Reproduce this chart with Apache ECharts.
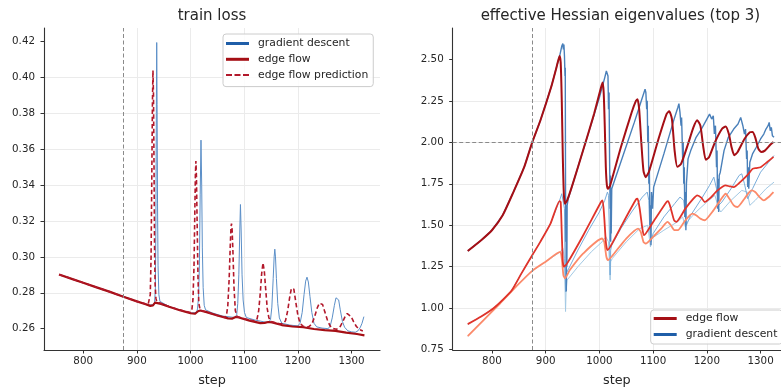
<!DOCTYPE html>
<html><head><meta charset="utf-8">
<script src="https://cdn.jsdelivr.net/npm/echarts@6/dist/echarts.min.js"></script>
<style>html,body{margin:0;padding:0;background:#fff}#c{width:781px;height:392px}</style>
</head><body><div id="c"></div>
<script>
// ---------- tick labels ----------
const xTicks = [800, 900, 1000, 1100, 1200, 1300];
const lossTicks = [0.26, 0.28, 0.30, 0.32, 0.34, 0.36, 0.38, 0.40, 0.42];
const eigTicks = [0.75, 1.00, 1.25, 1.50, 1.75, 2.00, 2.25, 2.50];
const stepMarker = 875;
const eigThreshold = 2.0;

// ---------- left panel: train loss ----------
const lossGD = [
[755,0.2902],[800,0.2856],[850,0.2805],[875,0.2778],[900,0.2752],[920,0.2732],
[931,0.2733],[933,0.2745],[934.5,0.2820],[935.5,0.3200],[936.3,0.3800],[937,0.4195],[937.7,0.3850],[938.5,0.3300],[939.5,0.2950],[941,0.2790],[943,0.2752],
[960,0.2723],[980,0.2704],[1000,0.2687],
[1011,0.2690],[1013,0.2710],[1015,0.2780],[1016.5,0.2950],[1018,0.3350],[1019.5,0.3651],[1020.8,0.3400],[1022,0.3050],[1023.5,0.2830],[1025.5,0.2730],[1028,0.2705],
[1040,0.2688],[1060,0.2670],
[1083,0.2662],[1086,0.2678],[1088,0.2740],[1090,0.2900],[1091.8,0.3150],[1093,0.3292],[1094.3,0.3150],[1096,0.2900],[1098,0.2760],[1100.5,0.2690],[1104,0.2662],
[1120,0.2648],[1140,0.2636],
[1146,0.2638],[1149,0.2650],[1151.5,0.2720],[1154,0.2880],[1155.8,0.3000],[1157,0.3043],[1158.3,0.3000],[1160,0.2880],[1162.5,0.2740],[1165.5,0.2660],[1170,0.2630],
[1185,0.2620],
[1200,0.2615],[1204,0.2630],[1208,0.2690],[1211.5,0.2790],[1214.5,0.2865],[1217,0.2887],[1219.5,0.2860],[1222.5,0.2780],[1226,0.2690],[1230,0.2630],[1235,0.2610],
[1245,0.2603],
[1256,0.2600],[1260,0.2612],[1264,0.2660],[1268,0.2730],[1271,0.2772],[1273.5,0.2780],[1276,0.2760],[1279,0.2705],[1283,0.2640],[1287,0.2608],[1293,0.2588],
[1300,0.2582],[1307,0.2580],[1312,0.2588],[1316,0.2605],[1319.5,0.2630],[1323,0.2667]
];
const lossEF = [
[755,0.2902],[780,0.2876],[800,0.2856],[825,0.2830],[850,0.2805],[875,0.2778],[900,0.2752],[915,0.2737],[925,0.2727],[930,0.2730],[934,0.2745],[937,0.2748],[945,0.2738],[960,0.2722],[980,0.2703],[1000,0.2686],[1008,0.2683],[1014,0.2697],[1018,0.2701],[1030,0.2692],[1050,0.2673],[1070,0.2657],[1078,0.2656],[1084,0.2665],[1090,0.2662],[1110,0.2645],[1130,0.2631],[1138,0.2632],[1145,0.2637],[1152,0.2635],[1170,0.2620],[1190,0.2612],[1210,0.2608],[1230,0.2598],[1250,0.2592],[1270,0.2588],[1290,0.2578],[1310,0.2570],[1324,0.2563]
];
const lossPred = [
[755,0.2902],[800,0.2856],[850,0.2805],[875,0.2778],[900,0.2752],
[921,0.2735],[923,0.2745],[925,0.2790],[926.5,0.3000],[928,0.3500],[929,0.3850],[930,0.4040],[931,0.3900],[932,0.3500],[933,0.3050],[934,0.2850],[935.5,0.2770],[937,0.2750],
[960,0.2723],[980,0.2704],
[1000,0.2690],[1002.5,0.2705],[1004.5,0.2760],[1006.5,0.2950],[1008,0.3250],[1009,0.3450],[1010,0.3535],[1011,0.3450],[1012.5,0.3150],[1014,0.2870],[1015.5,0.2740],[1018,0.2703],
[1030,0.2692],[1050,0.2674],
[1064,0.2662],[1067,0.2675],[1069.5,0.2730],[1072,0.2880],[1074,0.3060],[1075.3,0.3160],[1076.3,0.3186],[1077.5,0.3150],[1079,0.3030],[1081,0.2830],[1083.5,0.2700],[1087,0.2667],
[1100,0.2655],
[1120,0.2642],[1124,0.2655],[1127,0.2700],[1130,0.2800],[1132.5,0.2905],[1135,0.2967],[1137.5,0.2920],[1140,0.2820],[1143,0.2710],[1146,0.2660],[1150,0.2640],
[1165,0.2628],
[1173,0.2627],[1177,0.2645],[1181,0.2700],[1185,0.2780],[1188,0.2825],[1190,0.2836],[1192.5,0.2820],[1196,0.2750],[1200,0.2675],[1204,0.2630],[1210,0.2613],
[1220,0.2610],[1226,0.2625],[1231,0.2665],[1236,0.2715],[1240,0.2742],[1243,0.2747],[1246,0.2735],[1250,0.2695],[1255,0.2648],[1260,0.2615],[1266,0.2600],
[1272,0.2597],[1278,0.2607],[1283,0.2635],[1288,0.2668],[1292,0.2684],[1295,0.2684],[1299,0.2668],[1304,0.2638],[1309,0.2612],[1315,0.2595],[1321,0.2587]
];

// ---------- right panel: effective Hessian eigenvalues ----------
const eigEF1 = [
[755,1.345],[780,1.41],[800,1.47],[820,1.56],[840,1.70],[860,1.85],[875,2.00],[890,2.13],[910,2.33],[920,2.45],[926,2.52],[928,2.48],[930,2.25],[932,1.90],[934,1.68],[936,1.63],[940,1.65],[950,1.745],[970,1.955],[990,2.17],[1003,2.33],[1006,2.36],[1008,2.30],[1010,2.10],[1012,1.85],[1014,1.74],[1016,1.72],[1020,1.74],[1040,1.97],[1060,2.18],[1068,2.25],[1071,2.26],[1074,2.20],[1078,2.00],[1082,1.83],[1086,1.79],[1092,1.82],[1110,2.02],[1125,2.17],[1130,2.187],[1135,2.14],[1140,1.95],[1145,1.852],[1152,1.87],[1165,1.99],[1175,2.09],[1182,2.133],[1188,2.10],[1193,1.98],[1198,1.895],[1204,1.91],[1215,2.00],[1228,2.08],[1235,2.096],[1241,2.05],[1246,1.97],[1251,1.922],[1257,1.94],[1270,2.02],[1280,2.06],[1285,2.062],[1290,2.03],[1296,1.96],[1301,1.942],[1308,1.95],[1318,1.985],[1324,2.002]
];
const eigEF2 = [
[755,0.904],[780,0.95],[803,1.00],[820,1.05],[837,1.108],[855,1.21],[875,1.319],[890,1.40],[909,1.51],[926,1.646],[928,1.64],[930,1.45],[932,1.28],[934,1.25],[940,1.27],[970,1.44],[1003,1.64],[1006,1.65],[1009,1.55],[1012,1.40],[1015,1.35],[1022,1.38],[1045,1.52],[1068,1.655],[1071,1.66],[1075,1.60],[1080,1.48],[1083,1.44],[1100,1.52],[1125,1.64],[1128,1.645],[1133,1.60],[1139,1.53],[1143,1.52],[1160,1.60],[1175,1.66],[1182,1.68],[1190,1.665],[1196,1.64],[1205,1.66],[1220,1.71],[1235,1.74],[1242,1.735],[1250,1.73],[1262,1.76],[1275,1.80],[1285,1.84],[1292,1.845],[1300,1.85],[1312,1.88],[1324,1.912]
];
const eigEF3 = [
[755,0.831],[785,0.93],[815,1.028],[845,1.13],[875,1.225],[900,1.28],[927,1.339],[930,1.30],[933,1.20],[936,1.18],[945,1.23],[970,1.33],[1005,1.42],[1009,1.40],[1013,1.31],[1016,1.29],[1025,1.32],[1050,1.42],[1072,1.48],[1077,1.46],[1082,1.40],[1086,1.39],[1100,1.43],[1115,1.48],[1127,1.52],[1133,1.50],[1140,1.47],[1146,1.47],[1160,1.53],[1173,1.57],[1180,1.56],[1188,1.54],[1196,1.53],[1210,1.58],[1225,1.65],[1235,1.69],[1242,1.66],[1250,1.62],[1257,1.61],[1270,1.66],[1283,1.71],[1290,1.70],[1298,1.67],[1306,1.65],[1315,1.67],[1324,1.70]
];
const eigGD1 = [
[755,1.345],[780,1.41],[800,1.47],[820,1.56],[840,1.70],[860,1.85],[875,2.00],[890,2.13],[910,2.33],[920,2.45],[926,2.52],[930,2.58],[932,2.595],[933,2.56],[934,2.59],[935,2.52],[936,2.40],[936.5,2.45],[937,1.70],[937.5,1.40],[938,1.62],[938.5,1.10],[939,1.55],[939.5,1.25],[940,1.62],[942,1.66],[960,1.85],[980,2.06],[1000,2.27],[1010,2.39],[1013,2.43],[1014.5,2.44],[1016,2.40],[1017,2.20],[1018,2.30],[1019,1.90],[1020,1.60],[1020.5,1.80],[1021,1.40],[1021.5,1.65],[1022,1.45],[1023,1.72],[1025,1.73],[1045,1.93],[1065,2.12],[1080,2.27],[1085,2.32],[1086.5,2.30],[1088,2.20],[1089,2.25],[1090,2.00],[1091,2.10],[1092,1.75],[1093,1.85],[1094,1.50],[1095,1.62],[1096,1.38],[1097,1.70],[1099,1.60],[1101,1.73],[1120,1.93],[1140,2.15],[1146,2.21],[1148,2.233],[1150,2.18],[1152,2.10],[1153,2.15],[1155,1.90],[1156,2.00],[1157,1.75],[1158,1.85],[1159,1.55],[1160,1.70],[1161,1.47],[1162,1.75],[1165,1.90],[1170,1.95],[1180,2.03],[1190,2.08],[1200,2.14],[1205,2.17],[1207,2.18],[1209,2.14],[1212,2.16],[1214,2.05],[1216,2.10],[1218,1.85],[1219,1.95],[1220,1.60],[1221,1.78],[1222,1.58],[1223,1.80],[1225,1.82],[1232,1.95],[1240,2.03],[1250,2.08],[1258,2.11],[1263,2.15],[1265,2.14],[1267,2.10],[1270,2.05],[1272,2.08],[1274,1.90],[1275,1.95],[1276,1.73],[1277,1.85],[1278,1.72],[1280,1.88],[1285,1.93],[1292,1.97],[1300,2.02],[1306,2.05],[1310,2.08],[1314,2.10],[1316,2.12],[1318,2.07],[1320,2.09],[1322,2.04],[1325,2.03]
];
const eigGD2 = [
[755,0.904],[780,0.95],[803,1.00],[820,1.05],[837,1.108],[855,1.21],[875,1.319],[890,1.40],[909,1.51],[926,1.65],[930,1.69],[933,1.70],[935,1.60],[936,1.30],[937,1.10],[938,1.25],[940,1.22],[960,1.35],[980,1.47],[1000,1.58],[1010,1.65],[1015,1.70],[1017,1.68],[1019,1.40],[1020,1.20],[1021,1.35],[1023,1.38],[1040,1.48],[1060,1.58],[1080,1.67],[1089,1.70],[1092,1.65],[1094,1.45],[1096,1.40],[1100,1.45],[1120,1.55],[1140,1.63],[1150,1.67],[1157,1.65],[1160,1.55],[1162,1.50],[1170,1.56],[1190,1.66],[1205,1.74],[1213,1.79],[1218,1.72],[1222,1.62],[1228,1.64],[1245,1.72],[1260,1.80],[1265,1.81],[1270,1.75],[1276,1.66],[1285,1.72],[1300,1.82],[1315,1.88],[1325,1.92]
];
const eigGD3 = [
[755,0.831],[785,0.93],[815,1.028],[845,1.13],[875,1.225],[900,1.28],[927,1.339],[932,1.36],[935,1.30],[937,0.98],[938,1.10],[940,1.17],[960,1.25],[985,1.34],[1005,1.40],[1012,1.43],[1017,1.40],[1020,1.17],[1021,1.28],[1024,1.30],[1050,1.40],[1075,1.48],[1090,1.50],[1095,1.37],[1097,1.42],[1120,1.47],[1145,1.52],[1155,1.55],[1160,1.49],[1163,1.52],[1180,1.58],[1200,1.64],[1215,1.68],[1222,1.60],[1226,1.58],[1245,1.65],[1265,1.71],[1275,1.70],[1280,1.62],[1290,1.65],[1310,1.72],[1325,1.76]
];

// ---------- styling ----------
const FONT = 'DejaVu Sans';
const TXT = '#262626';
const AX = '#333333';
const GRIDC = '#ebebeb';

function xAxisCfg(gi, min, max) {
  return {
    type: 'value', gridIndex: gi, min: min, max: max,
    name: 'step', nameLocation: 'middle', nameGap: 24,
    nameTextStyle: { fontSize: 12.8, color: TXT, fontFamily: FONT },
    axisLine: { show: true, onZero: false, lineStyle: { color: AX, width: 1.1 } },
    axisTick: { show: true, inside: false, length: 3.5, customValues: xTicks, lineStyle: { color: AX, width: 1 } },
    axisLabel: { customValues: xTicks, fontSize: 10.3, color: TXT, margin: 6, fontFamily: FONT, formatter: v => String(Math.round(v)) },
    splitLine: { show: true, customValues: xTicks, showMinLine: false, showMaxLine: false, lineStyle: { color: GRIDC, width: 1 } }
  };
}
function yAxisCfg(gi, min, max, ticks) {
  return {
    type: 'value', gridIndex: gi, min: min, max: max,
    axisLine: { show: true, onZero: false, lineStyle: { color: AX, width: 1.1 } },
    axisTick: { show: true, inside: false, length: 3.5, customValues: ticks, lineStyle: { color: AX, width: 1 } },
    axisLabel: { customValues: ticks, fontSize: 10.3, color: TXT, margin: 9, fontFamily: FONT, formatter: v => Number(v).toFixed(2) },
    splitLine: { show: true, customValues: ticks, showMinLine: false, showMaxLine: false, lineStyle: { color: GRIDC, width: 1 } }
  };
}
function line(name, data, gi, color, width, extra) {
  return Object.assign({
    type: 'line', name: name, data: data, xAxisIndex: gi, yAxisIndex: gi,
    showSymbol: false, symbol: 'none', animation: false, silent: true,
    lineStyle: { color: color, width: width }, itemStyle: { color: color }
  }, extra || {});
}
const dashedRef = { type: [4, 2.5], color: '#8a8a8a', width: 1 };

const legendCommon = {
  orient: 'vertical', itemWidth: 23, itemHeight: 3,
  backgroundColor: 'rgba(255,255,255,0.85)', borderColor: '#cccccc', borderWidth: 1, borderRadius: 3,
  textStyle: { fontSize: 10.8, color: TXT, fontFamily: FONT, padding: [0, 0, 0, 4] },
  selectedMode: false
};
const solidIcon = 'rect';
const dashIcon = 'path://M0,0h6v2h-6z M8.5,0h6v2h-6z M17,0h6v2h-6z';

const option = {
  backgroundColor: '#ffffff',
  animation: false,
  grid: [
    { left: 44, right: 401, top: 28, bottom: 41.3 },
    { left: 452.7, right: 0, top: 28, bottom: 41.7 }
  ],
  xAxis: [ xAxisCfg(0, 727, 1353), xAxisCfg(1, 727, 1338) ],
  yAxis: [ yAxisCfg(0, 0.2481, 0.4276, lossTicks), yAxisCfg(1, 0.748, 2.689, eigTicks) ],
  legend: [
    Object.assign({}, legendCommon, {
      left: 223, top: 34, padding: [4, 5, 6, 3], itemGap: 4.8,
      data: [
        { name: 'gradient descent', icon: solidIcon, itemStyle: { color: '#1f5ea8' } },
        { name: 'edge flow', icon: solidIcon, itemStyle: { color: '#a50f15' } },
        { name: 'edge flow prediction', icon: dashIcon, itemStyle: { color: '#b2182b' } }
      ]
    }),
    Object.assign({}, legendCommon, {
      left: 650.7, top: 310, padding: [3, 5, 4, 3], itemGap: 5,
      data: [
        { name: 'edge flow', icon: solidIcon, itemStyle: { color: '#a50f15' } },
        { name: 'gradient descent', icon: solidIcon, itemStyle: { color: '#1f5ea8' } }
      ]
    })
  ],
  graphic: [
    { type: 'text', x: 212, y: 16, silent: true, style: { text: 'train loss', align: 'center', verticalAlign: 'middle', textAlign: 'center', textVerticalAlign: 'middle', fontSize: 15, fontFamily: FONT, fill: TXT } },
    { type: 'text', x: 620.4, y: 16, silent: true, style: { text: 'effective Hessian eigenvalues (top 3)', align: 'center', verticalAlign: 'middle', textAlign: 'center', textVerticalAlign: 'middle', fontSize: 15, fontFamily: FONT, fill: TXT } }
  ],
  series: [
    // left panel
    line('gradient descent', lossGD, 0, '#5b8fc8', 1, {
      markLine: { silent: true, symbol: ['none', 'none'], label: { show: false }, lineStyle: dashedRef, animation: false,
        data: [{ xAxis: stepMarker }] }
    }),
    line('edge flow', lossEF, 0, '#a50f15', 2.2),
    line('edge flow prediction', lossPred, 0, '#b2182b', 1.6, { lineStyle: { color: '#b2182b', width: 1.6, type: [4.5, 2.8] } }),
    // right panel
    line('gradient descent', eigGD3, 1, '#a3c9e4', 1, {
      markLine: { silent: true, symbol: ['none', 'none'], label: { show: false }, lineStyle: dashedRef, animation: false,
        data: [{ xAxis: stepMarker }, { yAxis: eigThreshold }] }
    }),
    line('gradient descent', eigGD2, 1, '#78addb', 1),
    line('gradient descent', eigGD1, 1, '#4a80ba', 1.4),
    line('edge flow', eigEF3, 1, '#fc8a6a', 1.8, { smooth: 0.2 }),
    line('edge flow', eigEF2, 1, '#e0332a', 1.8, { smooth: 0.2 }),
    line('edge flow', eigEF1, 1, '#a50f15', 2, { smooth: 0.2 })
  ]
};
const chart = echarts.init(document.getElementById('c'), null, { renderer: 'canvas' });
chart.setOption(option);
</script>
</body></html>
